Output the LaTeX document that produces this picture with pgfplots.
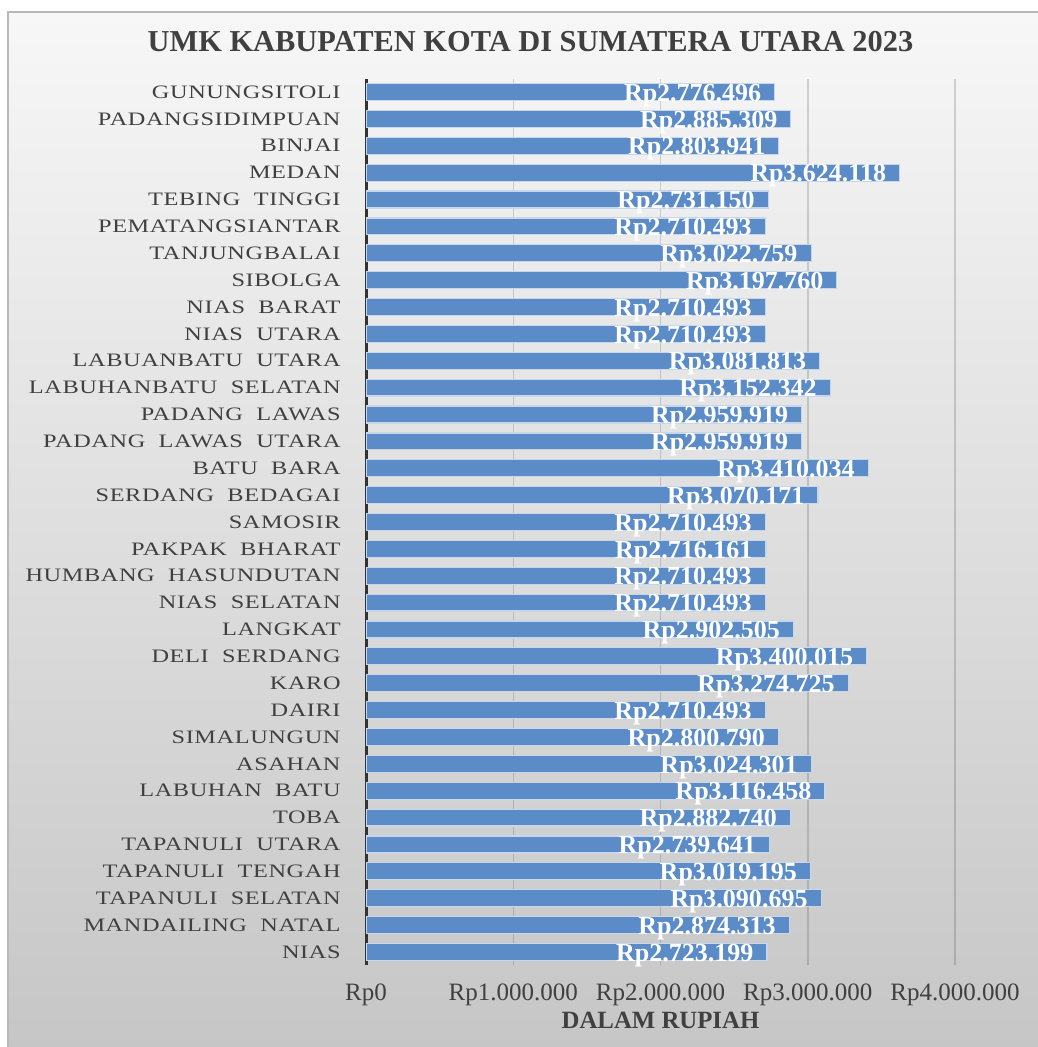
\documentclass[border=0pt]{standalone}
\usepackage{pgfplots}
\pgfplotsset{compat=1.18}
\usepackage{pgfplotstable}
\usepackage{graphicx}
\usepackage{fontspec}
\setmainfont{Liberation Serif}
\newfontfamily\catfont[LetterSpace=2.5, WordSpace=2]{Liberation Serif}
\definecolor{barblue}{RGB}{92,140,200}
\definecolor{txt}{RGB}{64,64,64}
\definecolor{bgtop}{RGB}{247,247,247}
\definecolor{bgbot}{RGB}{198,198,198}
\newcommand{\cat}[1]{\scalebox{1.28}[1]{\catfont\fontsize{9.5}{11}\selectfont #1}}

\pgfplotstableread{
idx val lab
0 2723199 Rp2.723.199
1 2874313 Rp2.874.313
2 3090695 Rp3.090.695
3 3019195 Rp3.019.195
4 2739641 Rp2.739.641
5 2882740 Rp2.882.740
6 3116458 Rp3.116.458
7 3024301 Rp3.024.301
8 2800790 Rp2.800.790
9 2710493 Rp2.710.493
10 3274725 Rp3.274.725
11 3400015 Rp3.400.015
12 2902505 Rp2.902.505
13 2710493 Rp2.710.493
14 2710493 Rp2.710.493
15 2716161 Rp2.716.161
16 2710493 Rp2.710.493
17 3070171 Rp3.070.171
18 3410034 Rp3.410.034
19 2959919 Rp2.959.919
20 2959919 Rp2.959.919
21 3152342 Rp3.152.342
22 3081813 Rp3.081.813
23 2710493 Rp2.710.493
24 2710493 Rp2.710.493
25 3197760 Rp3.197.760
26 3022759 Rp3.022.759
27 2710493 Rp2.710.493
28 2731150 Rp2.731.150
29 3624118 Rp3.624.118
30 2803941 Rp2.803.941
31 2885309 Rp2.885.309
32 2776496 Rp2.776.496
}\umk

\begin{document}
\begin{tikzpicture}
\useasboundingbox (0,0) rectangle (518.5pt,523.5pt);
\shade[top color=bgtop, bottom color=bgbot] (4pt,-1pt) rectangle (520pt,517.5pt);
\draw[color=gray!55, line width=1pt] (4pt,-1pt) -- (4pt,517.5pt) -- (520pt,517.5pt);
\begin{axis}[
  at={(183pt,40.8pt)}, anchor=south west,
  scale only axis, width=294.5pt, height=443.4pt,
  xbar, bar width=0.63,
  xmin=0, xmax=4000000, ymin=-0.5, ymax=32.5,
  axis y line*=left, axis x line*=bottom,
  x axis line style={draw=none},
  y axis line style={draw=black!80, line width=1.5pt},
  xtick={0,1000000,2000000,3000000,4000000},
  xticklabels={Rp0,Rp1.000.000,Rp2.000.000,Rp3.000.000,Rp4.000.000},
  scaled x ticks=false,
  xticklabel style={font=\fontsize{12.5}{14}\selectfont, text=txt, yshift=-5.6pt},
  ytick={0,...,32},
  yticklabels={\cat{NIAS},\cat{MANDAILING NATAL},\cat{TAPANULI SELATAN},\cat{TAPANULI TENGAH},\cat{TAPANULI UTARA},\cat{TOBA},\cat{LABUHAN BATU},\cat{ASAHAN},\cat{SIMALUNGUN},\cat{DAIRI},\cat{KARO},\cat{DELI SERDANG},\cat{LANGKAT},\cat{NIAS SELATAN},\cat{HUMBANG HASUNDUTAN},\cat{PAKPAK BHARAT},\cat{SAMOSIR},\cat{SERDANG BEDAGAI},\cat{BATU BARA},\cat{PADANG LAWAS UTARA},\cat{PADANG LAWAS},\cat{LABUHANBATU SELATAN},\cat{LABUANBATU UTARA},\cat{NIAS UTARA},\cat{NIAS BARAT},\cat{SIBOLGA},\cat{TANJUNGBALAI},\cat{PEMATANGSIANTAR},\cat{TEBING TINGGI},\cat{MEDAN},\cat{BINJAI},\cat{PADANGSIDIMPUAN},\cat{GUNUNGSITOLI}},
  yticklabel style={text=txt, inner sep=0pt, xshift=-12.5pt},
  major tick length=0pt,
  xmajorgrids,
  major grid style={draw=black, opacity=0.15, line width=0.75pt},
  title={UMK KABUPATEN KOTA DI SUMATERA UTARA 2023},
  title style={at={(axis description cs:0.5,1)}, anchor=center, xshift=-65pt, yshift=12.3pt, font=\bfseries\fontsize{15.2}{17}\selectfont, text=txt},
  xlabel={DALAM RUPIAH},
  xlabel style={at={(axis description cs:0.5,0)}, anchor=center, yshift=-27.5pt, font=\bfseries\fontsize{12.4}{14}\selectfont, text=txt},
  point meta=explicit symbolic,
  nodes near coords,
  every node near coord/.append style={anchor=base east, text=white, font=\bfseries\fontsize{13}{15}\selectfont, inner sep=0pt, xshift=-6.5pt, yshift=-4.6pt},
]
\addplot[fill=barblue, draw=white!65!barblue, line width=0.6pt] table[x=val, y=idx, meta=lab] {\umk};
\end{axis}
\end{tikzpicture}
\end{document}
